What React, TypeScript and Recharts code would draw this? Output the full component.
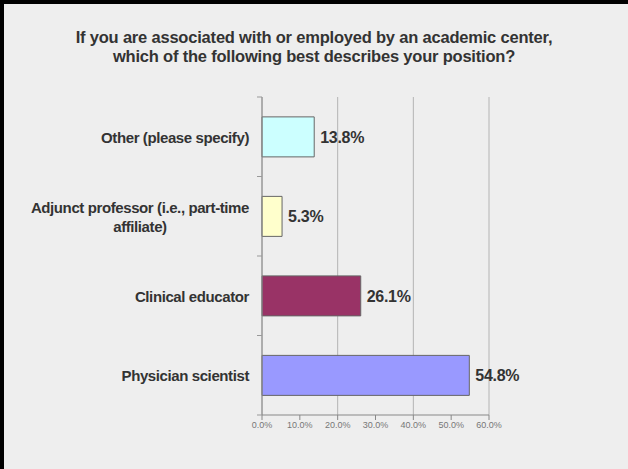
import React from "react";
import { BarChart, Bar, XAxis, YAxis, CartesianGrid, Cell, LabelList } from "recharts";

const categories = [
  "Other (please specify)",
  "Adjunct professor (i.e., part-time affiliate)",
  "Clinical educator",
  "Physician scientist",
];
const percents = [13.8, 5.3, 26.1, 54.8];
const barColors = ["#ccffff", "#ffffcc", "#993366", "#9999ff"];
const xTicks = [0, 10, 20, 30, 40, 50, 60];
const titleLines = [
  "If you are associated with or employed by an academic center,",
  "which of the following best describes your position?",
];

const data = categories.map((name, i) => ({ name, value: percents[i] }));

const FONT = "'Liberation Sans', Arial, sans-serif";
const LABEL_FONT = `bold 15px ${FONT}`;

let ctx: CanvasRenderingContext2D | null = null;
const measure = (s: string) => {
  if (!ctx) ctx = document.createElement("canvas").getContext("2d");
  if (!ctx) return s.length * 7;
  ctx.font = LABEL_FONT;
  return ctx.measureText(s).width - s.length * 0.4;
};

const wrap = (text: string, max: number) => {
  const words = text.split(" ");
  const lines: string[] = [];
  let cur = "";
  words.forEach((w) => {
    const next = cur ? cur + " " + w : w;
    if (cur && measure(next) > max) {
      lines.push(cur);
      cur = w;
    } else cur = next;
  });
  if (cur) lines.push(cur);
  return lines;
};

const CategoryTick = (props: any) => {
  const { x, y, payload, index } = props;
  const half = payload.offset ?? 39.75;
  const axisX = x + 13;
  const lines = wrap(String(payload.value), 235);
  const blockW = Math.max(...lines.map(measure));
  const cx = x - blockW / 2;
  const lh = 19;
  const y0 = y - ((lines.length - 1) * lh) / 2;
  return (
    <g>
      {index === 0 && <line x1={axisX - 5} x2={axisX} y1={y - half} y2={y - half} stroke="#999" />}
      <line x1={axisX - 5} x2={axisX} y1={y + half} y2={y + half} stroke="#999" />
      <text
        x={cx}
        y={y0}
        textAnchor="middle"
        dominantBaseline="central"
        fill="#333"
        style={{ font: LABEL_FONT, letterSpacing: "-0.4px" }}
      >
        {lines.map((l, i) => (
          <tspan key={i} x={cx} y={y0 + i * lh}>
            {l}
          </tspan>
        ))}
      </text>
    </g>
  );
};

export default function App() {
  return (
    <div style={{ position: "relative", width: 628, height: 469, background: "#eeeeee", fontFamily: FONT }}>
      <style>{`body{margin:0}`}</style>
      <div style={{ position: "absolute", left: 0, top: 0, width: 4, height: 469, background: "#000" }} />
      <div style={{ position: "absolute", left: 0, top: 0, width: 628, height: 4, background: "#000" }} />
      <div
        style={{
          position: "absolute",
          top: 28,
          left: 0,
          width: 628,
          textAlign: "center",
          fontSize: 16.5,
          fontWeight: "bold",
          lineHeight: "19px",
          color: "#333",
          letterSpacing: "-0.2px",
        }}
      >
        {titleLines.map((l) => (
          <div key={l}>{l}</div>
        ))}
      </div>
      <BarChart
        width={628}
        height={469}
        data={data}
        layout="vertical"
        barCategoryGap="25%"
        margin={{ top: 97, right: 139, bottom: 24, left: 0 }}
        style={{ position: "absolute", left: 0, top: 0 }}
      >
        <CartesianGrid horizontal={false} stroke="#b4b4b4" />
        <XAxis
          type="number"
          domain={[0, 60]}
          ticks={xTicks}
          height={30}
          tickFormatter={(v: number) => v.toFixed(1) + "%"}
          stroke="#888"
          tickSize={5}
          tick={{ fill: "#777", fontSize: 9, fontFamily: FONT }}
        />
        <YAxis
          type="category"
          dataKey="name"
          width={262}
          stroke="#888"
          tickLine={false}
          tickSize={0}
          tickMargin={13}
          interval={0}
          tick={<CategoryTick />}
        />
        <Bar dataKey="value" stroke="#666" strokeWidth={1} isAnimationActive={false}>
          {data.map((d, i) => (
            <Cell key={d.name} fill={barColors[i]} />
          ))}
          <LabelList
            dataKey="value"
            position="right"
            offset={6}
            formatter={(v: any) => Number(v).toFixed(1) + "%"}
            style={{ fill: "#333", fontSize: 16, fontWeight: "bold", fontFamily: FONT, letterSpacing: "-0.3px" }}
          />
        </Bar>
      </BarChart>
    </div>
  );
}
